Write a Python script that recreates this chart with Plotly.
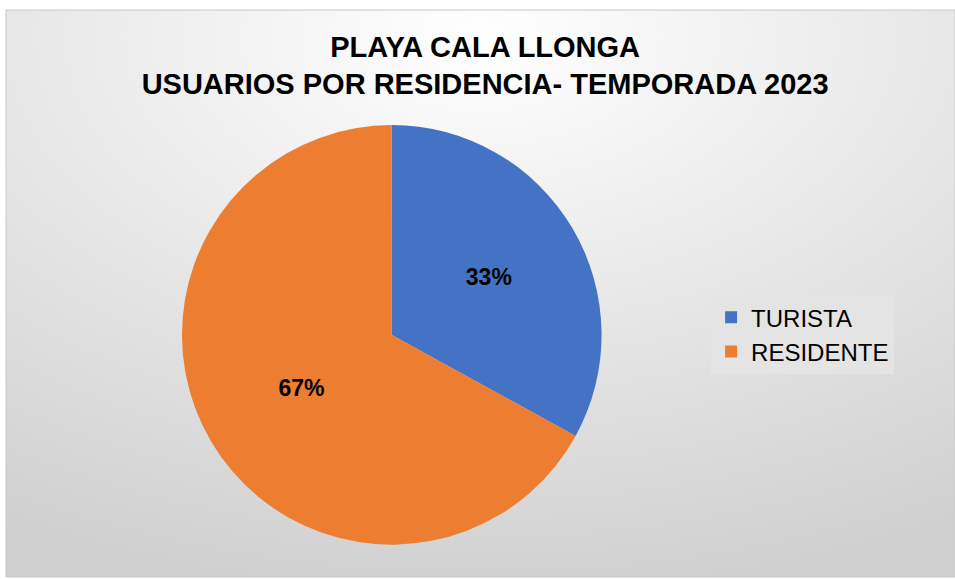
import plotly.graph_objects as go
import base64

labels = ["TURISTA", "RESIDENTE"]
values = [33, 67]
colors = ["#4472C4", "#ED7D31"]
title_lines = ["PLAYA CALA LLONGA", "USUARIOS POR RESIDENCIA- TEMPORADA 2023"]

svg = ('<svg xmlns="http://www.w3.org/2000/svg" width="100" height="100" preserveAspectRatio="none">'
       '<defs><radialGradient id="g" cx="0.5" cy="0.05" r="1.0">'
       '<stop offset="0" stop-color="#ffffff"/><stop offset="0.6" stop-color="#e2e2e2"/>'
       '<stop offset="1" stop-color="#cfcfcf"/>'
       '</radialGradient></defs><rect width="100" height="100" fill="url(#g)"/></svg>')
uri = "data:image/svg+xml;base64," + base64.b64encode(svg.encode()).decode()

fig = go.Figure(go.Pie(
    labels=labels, values=values, sort=False, direction="clockwise", rotation=0,
    marker=dict(colors=colors, line=dict(width=0)),
    texttemplate="<b>%{percent:.0%}</b>", textposition="inside",
    insidetextfont=dict(family="Arial, Liberation Sans", size=23, color="black"),
    domain=dict(x=[0.185, 0.628], y=[0.057, 0.797]),
    hoverinfo="label+percent",
))

fig.update_layout(
    width=955, height=579,
    margin=dict(l=6, r=0, t=10, b=2),
    paper_bgcolor="white",
    title=dict(text="<b>" + "<br>".join(title_lines) + "</b>",
               x=0.508, xanchor="center", y=0.902, yanchor="top",
               font=dict(family="Arial, Liberation Sans", size=29, color="black")),
    legend=dict(x=0.743, y=0.497, xanchor="left", yanchor="top",
                bgcolor="#e4e4e4", borderwidth=0,
                font=dict(family="Arial, Liberation Sans", size=24, color="black"),
                itemwidth=30),
    images=[dict(source=uri, xref="paper", yref="paper", x=0, y=1, sizex=1, sizey=1,
                 xanchor="left", yanchor="top", sizing="stretch", layer="below")],
    shapes=[dict(type="rect", xref="paper", yref="paper", x0=0, y0=0, x1=1, y1=1,
                 line=dict(color="#c8c8c8", width=1))],
)

fig.write_html("out.html", config={"displayModeBar": False},
               post_script="document.body.style.margin='0';")
